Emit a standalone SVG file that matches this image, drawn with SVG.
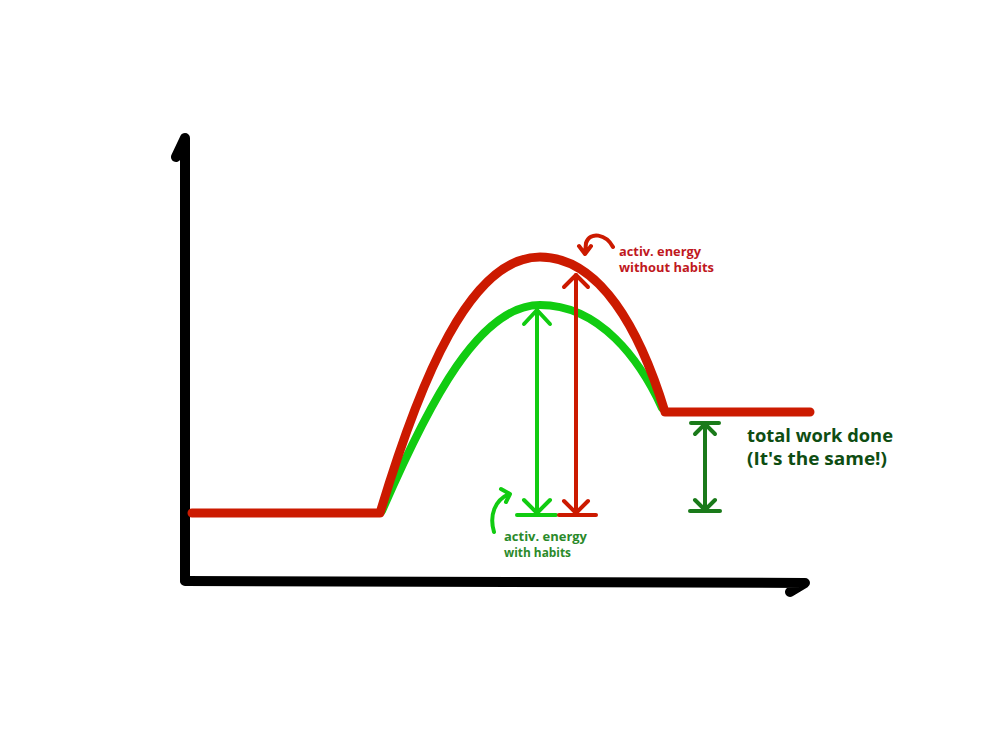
<svg xmlns="http://www.w3.org/2000/svg" width="1000" height="750" viewBox="0 0 1000 750">
<style>
.ax{fill:none;stroke:#000;stroke-width:10;stroke-linecap:round;stroke-linejoin:round}
.red{fill:none;stroke:#cc1a00;stroke-width:9;stroke-linecap:round;stroke-linejoin:round}
.grn{fill:none;stroke:#11cc11;stroke-width:8;stroke-linecap:round;stroke-linejoin:round}
.ar{fill:none;stroke-width:4;stroke-linecap:round;stroke-linejoin:round}
.t{font-family:"Open Sans","DejaVu Sans",sans-serif;font-weight:bold}
</style>
<rect width="1000" height="750" fill="#fff"/>
<g id="axes">
<path class="ax" d="M185,580 L185,138 L176,157"/>
<path class="ax" d="M185,581 L805,583 L790,592"/>
</g>
<g id="curves">
<path class="grn" d="M382,511 C430,400 480,305 540,305 C600,305 640,360 662,408"/>
<path class="red" d="M192,513 L380,513 C420,380 470,257 540,257 C600,257 640,330 665,412 L810,412"/>
</g>
<g id="connectors">
<g stroke="#11cc11" class="ar">
<path d="M537,310 L537,513"/>
<path d="M524,324 L537,310 L550,324"/>
<path d="M524,500 L537,513 L550,500"/>
<path d="M517,515 L556,515"/>
<path d="M494,532 C489,515 495,500 509,494 M501,489 L510,494 L506,502"/>
</g>
<g stroke="#cc1a00" class="ar">
<path d="M576,275 L576,513"/>
<path d="M564,287 L576,275 L588,287"/>
<path d="M564,501 L576,513 L588,501"/>
<path d="M559,515 L596,515"/>
<path d="M613,247 C606,234 590,231 586,243 L585,254 M579,246 L585,254 L591,246"/>
</g>
<g stroke="#1a7a1a" class="ar">
<path d="M705,424 L705,510"/>
<path d="M691,423 L719,423"/>
<path d="M695,434 L705,424 L715,434"/>
<path d="M695,500 L705,510 L715,500"/>
<path d="M690,511 L720,511"/>
</g>
</g>
<g id="label-red">
<text class="t" x="619" y="256" font-size="12.5" fill="#c0181e" textLength="82" lengthAdjust="spacingAndGlyphs">activ. energy</text>
<text class="t" x="619" y="272" font-size="12.5" fill="#c0181e" textLength="95" lengthAdjust="spacingAndGlyphs">without habits</text>
</g>
<g id="label-green">
<text class="t" x="504" y="541" font-size="12.5" fill="#2a8a2a" textLength="83" lengthAdjust="spacingAndGlyphs">activ. energy</text>
<text class="t" x="504" y="557" font-size="12.5" fill="#2a8a2a" textLength="67" lengthAdjust="spacingAndGlyphs">with habits</text>
</g>
<g id="label-total">
<text class="t" x="747" y="442" font-size="18.5" fill="#0e4d12" textLength="146" lengthAdjust="spacingAndGlyphs">total work done</text>
<text class="t" x="747" y="465" font-size="18.5" fill="#0e4d12" textLength="140" lengthAdjust="spacingAndGlyphs">(It's the same!)</text>
</g>
</svg>
